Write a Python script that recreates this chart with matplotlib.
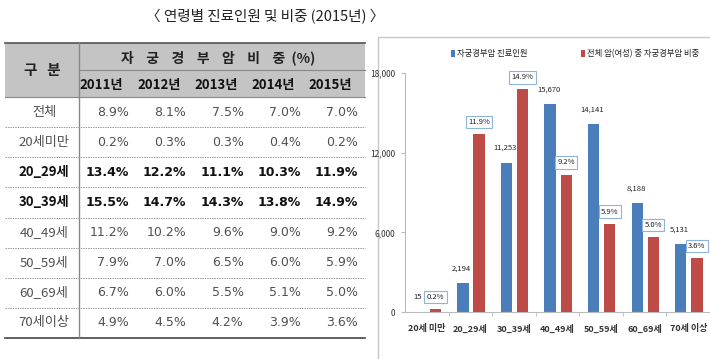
import numpy as np
import matplotlib
matplotlib.use('Agg')
from matplotlib import pyplot as plt
from matplotlib.patches import Rectangle

plt.rcParams['font.family'] = ['Noto Sans CJK KR', 'DejaVu Sans']
NUMFONT = ['DejaVu Sans', 'Noto Sans CJK KR']

# table data
years = ['2011년', '2012년', '2013년', '2014년', '2015년']
groups = ['전체', '20세미만', '20_29세', '30_39세', '40_49세', '50_59세', '60_69세', '70세이상']
share = [
    [8.9, 8.1, 7.5, 7.0, 7.0],
    [0.2, 0.3, 0.3, 0.4, 0.2],
    [13.4, 12.2, 11.1, 10.3, 11.9],
    [15.5, 14.7, 14.3, 13.8, 14.9],
    [11.2, 10.2, 9.6, 9.0, 9.2],
    [7.9, 7.0, 6.5, 6.0, 5.9],
    [6.7, 6.0, 5.5, 5.1, 5.0],
    [4.9, 4.5, 4.2, 3.9, 3.6],
]
bold_rows = ['20_29세', '30_39세']

# bar chart data (2015)
ages = ['20세 미만', '20_29세', '30_39세', '40_49세', '50_59세', '60_69세', '70세 이상']
patients = [15, 2194, 11253, 15670, 14141, 8188, 5131]
ratio = [0.2, 11.9, 14.9, 9.2, 5.9, 5.0, 3.6]

W, H = 710, 359
fig = plt.figure(figsize=(W / 100, H / 100), dpi=100)
fig.patch.set_facecolor('white')

# pixel canvas for table and title
bg = fig.add_axes([0, 0, 1, 1])
bg.set_xlim(0, W)
bg.set_ylim(H, 0)
bg.axis('off')

bg.text(265, 17, '〈 연령별 진료인원 및 비중 (2015년) 〉', ha='center', va='center',
        fontsize=10.5, color='#222222')

# table layout
x0, x1, xs = 5, 365, 79
top, hmid, hbot, bot = 43, 70, 97, 338
colw = (x1 - xs) / len(years)
rowh = (bot - hbot) / len(groups)
gray = '#c4c4c4'

bg.add_patch(Rectangle((x0, top), x1 - x0, hbot - top, facecolor=gray, edgecolor='none'))
bg.plot([x0, x1], [top, top], color='#555555', lw=1.2)
bg.plot([xs, x1], [hmid, hmid], color='#888888', lw=0.8)
bg.plot([x0, x1], [hbot, hbot], color='#888888', lw=0.8)
bg.plot([x0, x1], [bot, bot], color='#444444', lw=1.2)
bg.plot([xs, xs], [top, bot], color='#888888', lw=1.0)

bg.text((x0 + xs) / 2, (top + hbot) / 2, '구   분', ha='center', va='center',
        fontsize=10.5, fontweight='bold', color='#222222')
bg.text((xs + x1) / 2 - 4, (top + hmid) / 2 + 1, '자    궁    경    부    암    비    중  (%)',
        ha='center', va='center', fontsize=10, fontweight='bold', color='#222222')
for j, y in enumerate(years):
    bg.text(xs + colw * (j + 0.5) - 6, (hmid + hbot) / 2 + 1, y, ha='center', va='center',
            fontsize=9.5, fontweight='bold', color='#111111')

for i, g in enumerate(groups):
    yc = hbot + rowh * (i + 0.5)
    b = g in bold_rows
    fw = 'bold' if b else 'normal'
    c = '#111111' if b else '#505050'
    bg.text((x0 + xs) / 2 + 2, yc, g, ha='center', va='center', fontsize=9.5,
            fontweight=fw, color=c)
    for j, v in enumerate(share[i]):
        bg.text(xs + colw * (j + 1) - 7, yc, '%.1f%%' % v, ha='right', va='center',
                fontsize=9, fontweight=fw, color=c, family=NUMFONT)
    if i < len(groups) - 1:
        yl = hbot + rowh * (i + 1)
        bg.plot([x0, x1], [yl, yl], color='#999999', lw=0.7, ls=(0, (1.5, 1)))

# chart panel border
bg.add_patch(Rectangle((378, 37), 340, 330, facecolor='none', edgecolor='#c8c8c8', lw=1))

# bar chart
ax = fig.add_axes([405 / W, (H - 312) / H, (W - 405) / W, (312 - 73) / H])
ax2 = ax.twinx()
x = np.arange(len(ages))
bw = 0.26
blue = '#4a7ebb'
red = '#be4b48'
ax.bar(x - 0.17, patients, bw, color=blue)
ax2.bar(x + 0.2, ratio, bw, color=red)
ax.set_xlim(-0.5, len(ages) - 0.5)
ax.set_ylim(0, 18000)
ax2.set_ylim(0, 16)
ax2.axis('off')

for s in ['top', 'right']:
    ax.spines[s].set_visible(False)
ax.spines['left'].set_color('#bbbbbb')
ax.spines['bottom'].set_color('#bbbbbb')
ax.patch.set_alpha(0)
ax.set_yticks([0, 6000, 12000, 18000])
ax.set_yticklabels(['0', '6,000', '12,000', '18,000'], fontsize=6, color='#333333')
ax.tick_params(axis='y', length=3, color='#bbbbbb', pad=4)
ax.set_xticks(x)
ax.set_xticklabels(ages, fontsize=6.5, fontweight='bold', color='#333333')
ax.tick_params(axis='x', length=0, pad=9)
ax.set_xticks(np.arange(len(ages)) + 0.5, minor=True)
ax.tick_params(axis='x', which='minor', length=3, color='#bbbbbb')

for xi, v in zip(x, patients):
    ax.text(xi - 0.2, v + 800, f'{v:,}', ha='center', va='bottom', fontsize=5.5,
            color='#222222')
for xi, v in zip(x, ratio):
    ax2.text(xi + 0.2, v + 0.55, '%.1f%%' % v, ha='center', va='bottom', fontsize=5.5,
             color='#222222',
             bbox=dict(boxstyle='square,pad=0.3', fc='white', ec='#8fb4dc', lw=0.8))

# legend
bg.add_patch(Rectangle((451, 50), 4, 7, facecolor=blue, edgecolor='none'))
bg.text(457, 53.5, '자궁경부암 진료인원', color='#222222', fontsize=6, ha='left', va='center')
bg.add_patch(Rectangle((581, 50), 4, 7, facecolor=red, edgecolor='none'))
bg.text(587, 53.5, '전체 암(여성) 중 자궁경부암 비중', color='#222222', fontsize=6,
        ha='left', va='center')

fig.savefig('out.png', dpi=100)
